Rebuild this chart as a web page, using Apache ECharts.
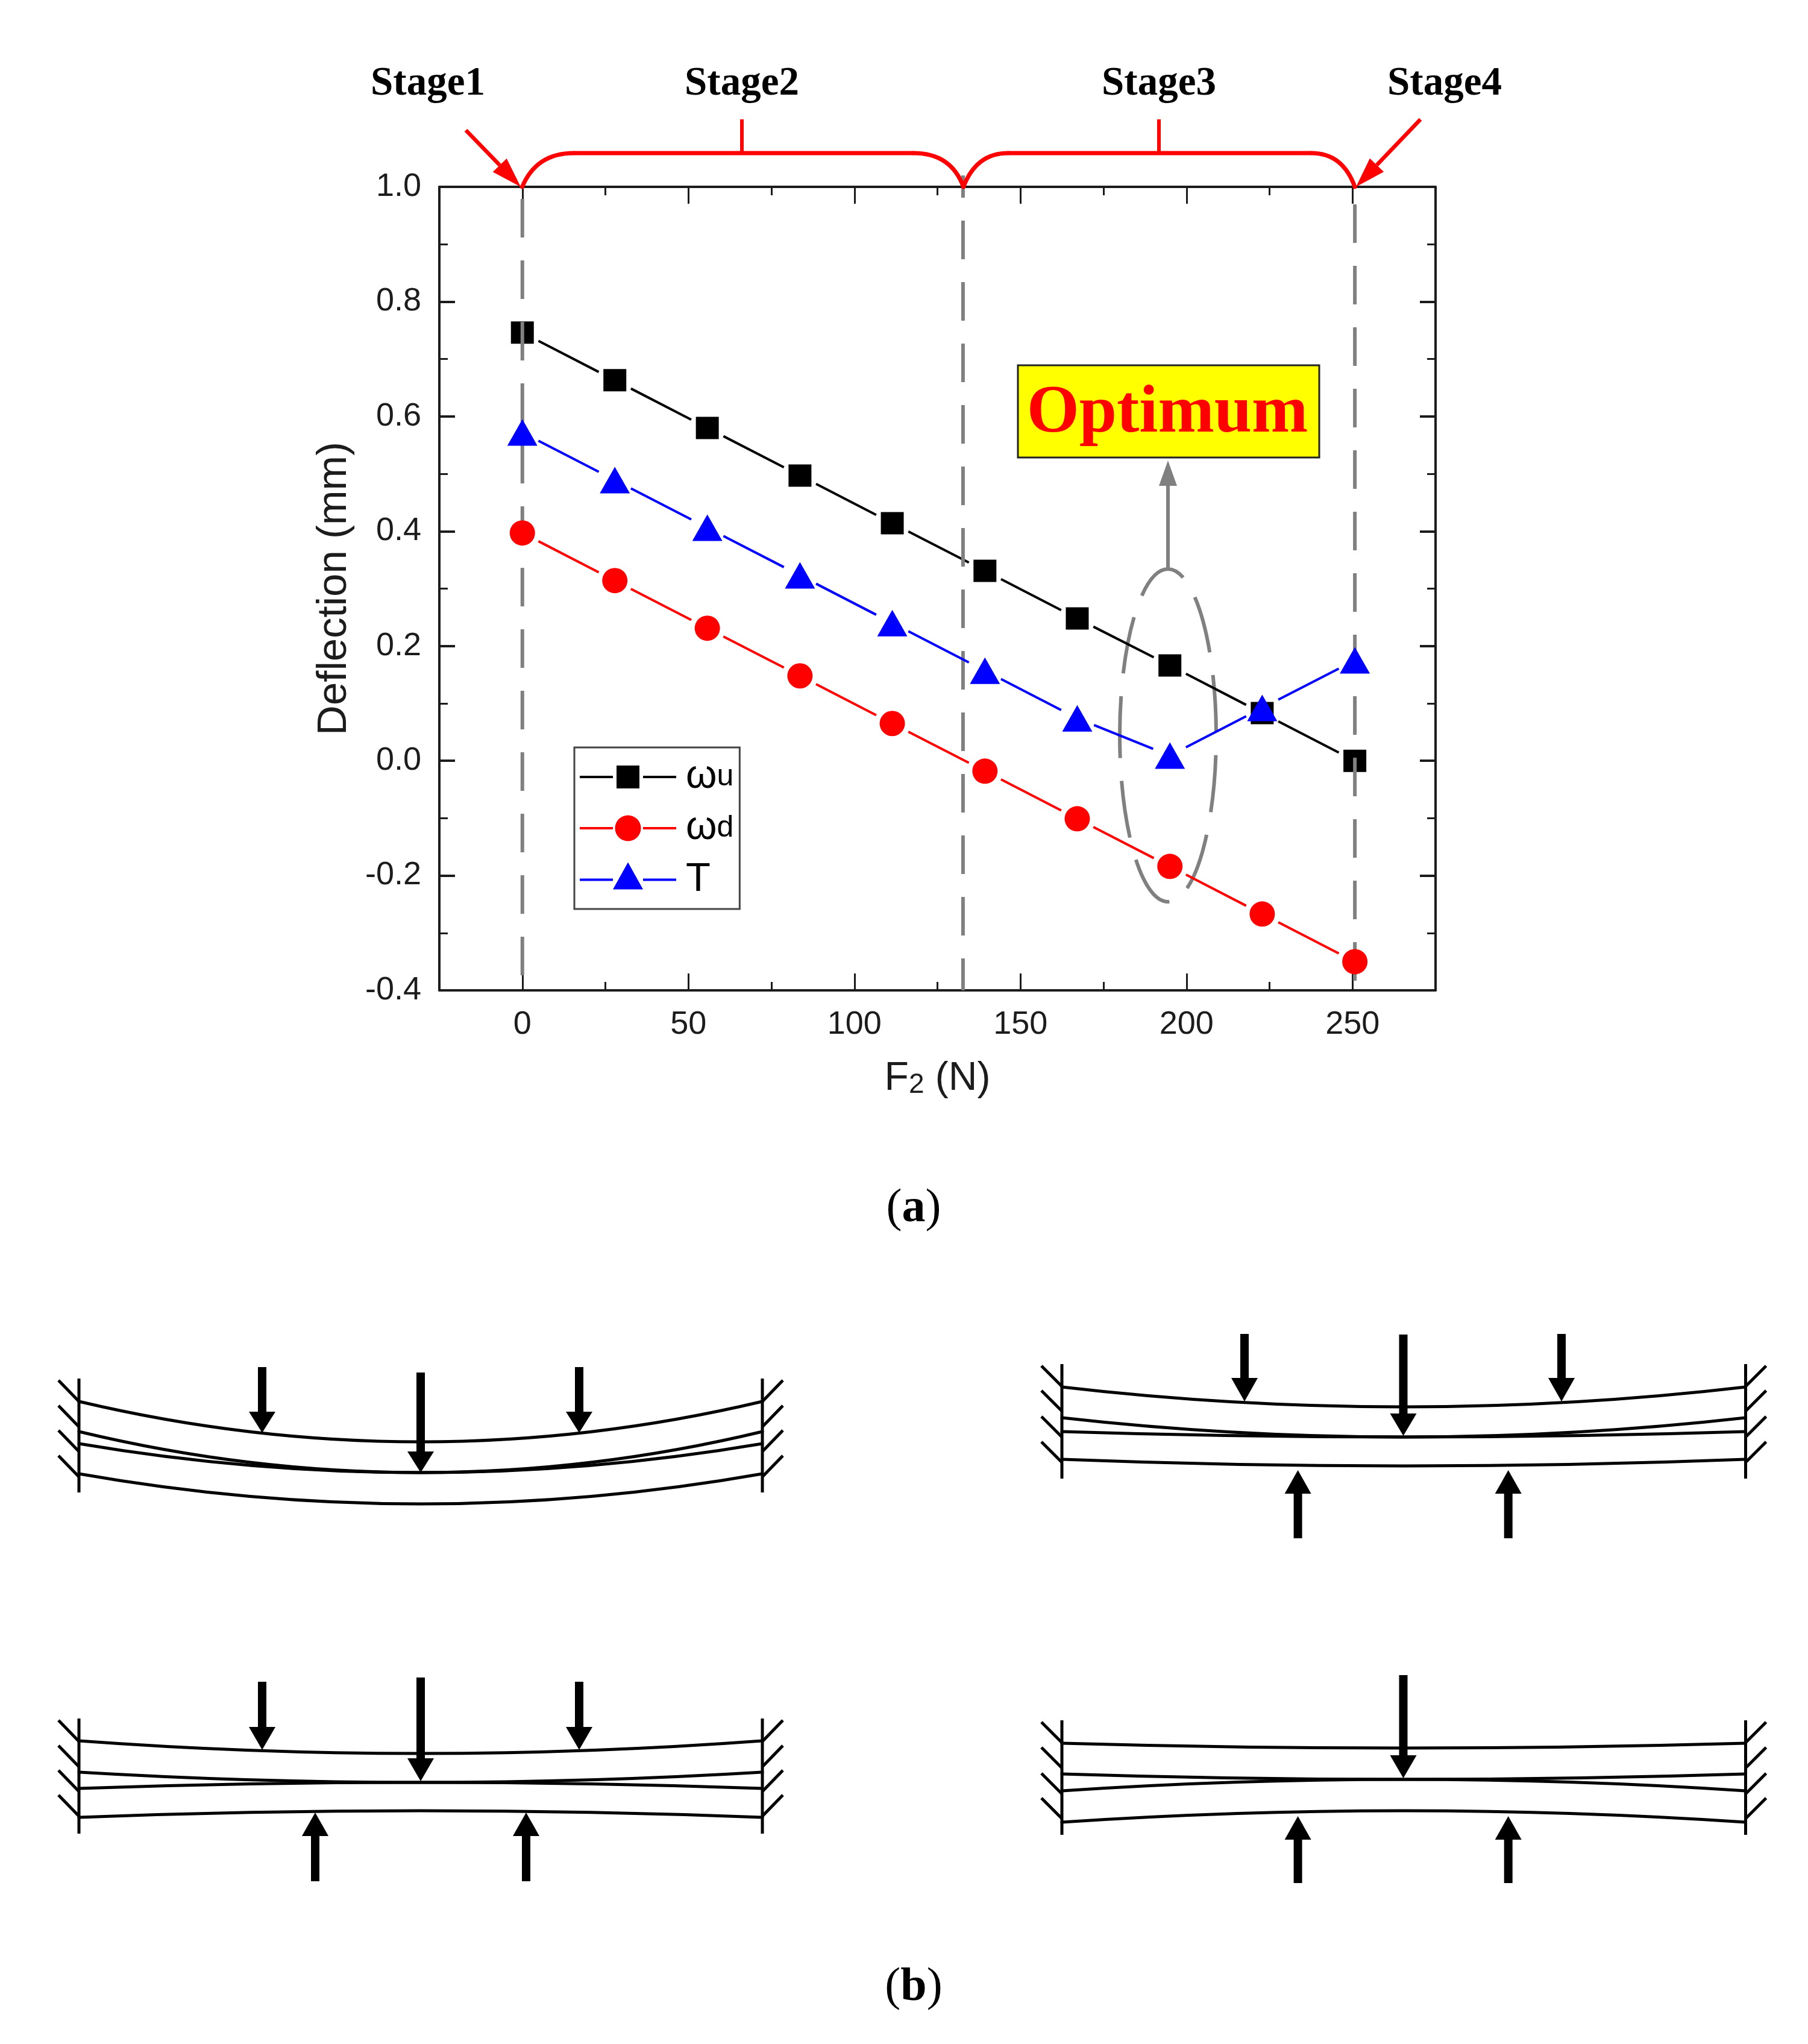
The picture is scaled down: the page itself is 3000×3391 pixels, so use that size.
<!DOCTYPE html>
<html>
<head>
<meta charset="utf-8">
<style>html,body{margin:0;padding:0;background:#fff}#c{width:3000px;height:3391px}</style>
<script src="https://cdn.jsdelivr.net/npm/echarts@6/dist/echarts.min.js"></script>
</head>
<body>
<div id="c"></div>
<script>
// ---- data ----
const forceN = [0, 27.85, 55.7, 83.6, 111.4, 139.3, 167.1, 195, 222.8, 250.7];
const omegaU = [0.746, 0.663, 0.58, 0.497, 0.414, 0.331, 0.248, 0.166, 0.083, 0.0];
const omegaD = [0.397, 0.314, 0.231, 0.148, 0.065, -0.018, -0.101, -0.184, -0.267, -0.35];
const tValue = [0.572, 0.489, 0.406, 0.323, 0.24, 0.157, 0.074, 0.009, 0.092, 0.175];
const stageBoundaries = [0, 132.7, 250.7];
const stageTops = [1.0, 1.02, 1.0];
const xMajorTicks = [0, 50, 100, 150, 200, 250];
const xMinorTicks = [25, 75, 125, 175, 225];
const stageLabels = ['Stage1', 'Stage2', 'Stage3', 'Stage4'];
const seriesNames = ['ωu', 'ωd', 'T'];
const xAxisTitle = 'F{s|2} (N)';
const yAxisTitle = 'Deflection (mm)';

const SANS = '"Liberation Sans", Arial, sans-serif';
const SERIF = '"Liberation Serif", "Times New Roman", serif';
const INK = '#1c1c1c';
const GRAY = '#808080';
const LINE_GAP = 30;

const chart = echarts.init(document.getElementById('c'), null, {renderer: 'canvas'});

function pairs(xs, ys) { return xs.map((x, i) => [x, ys[i]]); }
function segments(xs, ys) {
  const out = [];
  for (let i = 0; i + 1 < xs.length; i++) out.push([xs[i], ys[i], xs[i + 1], ys[i + 1]]);
  return out;
}
function gappedLine(color) {
  return function (params, api) {
    const a = api.coord([api.value(0), api.value(1)]);
    const b = api.coord([api.value(2), api.value(3)]);
    const dx = b[0] - a[0], dy = b[1] - a[1], d = Math.hypot(dx, dy);
    const ux = dx / d, uy = dy / d;
    return {
      type: 'line',
      shape: {x1: a[0] + ux * LINE_GAP, y1: a[1] + uy * LINE_GAP, x2: b[0] - ux * LINE_GAP, y2: b[1] - uy * LINE_GAP},
      style: {stroke: color, lineWidth: 4, fill: null}
    };
  };
}
function lineSeries(name, ys, color, z) {
  return {
    name: name + ' segments', type: 'custom', z: z, silent: true, animation: false,
    xAxisIndex: 0, yAxisIndex: 0, clip: false,
    data: segments(forceN, ys), renderItem: gappedLine(color),
    encode: {x: [0, 2], y: [1, 3]}
  };
}
function markerSeries(name, ys, color, symbol, size, z) {
  return {
    name: name, type: 'line', z: z, xAxisIndex: 0, yAxisIndex: 0, animation: false,
    data: pairs(forceN, ys), symbol: symbol, symbolSize: size, showSymbol: true, showAllSymbol: true,
    itemStyle: {color: color, borderWidth: 0}, lineStyle: {width: 0, opacity: 0}, silent: true
  };
}
const dashOffsets = [82, 46, 73];
const boundarySeries = {
  name: 'stage boundaries', type: 'custom', z: 3, silent: true, animation: false,
  xAxisIndex: 0, yAxisIndex: 0, clip: false,
  data: stageBoundaries.map((x, i) => [x, stageTops[i]]),
  encode: {x: 0, y: 1},
  renderItem: function (params, api) {
    const t = api.coord([api.value(0), api.value(1)]);
    const b = api.coord([api.value(0), -0.4]);
    const extra = params.dataIndex === 1 ? 19 : 0;
    return {
      type: 'line',
      shape: {x1: t[0], y1: t[1], x2: b[0], y2: b[1]},
      style: {stroke: GRAY, lineWidth: 6, lineDash: [64, 38], lineDashOffset: dashOffsets[params.dataIndex] - extra, fill: null}
    };
  }
};

// ---- axes: frame with inward ticks on all four sides ----
function xAxisPart(position, ticks, length, withLine, withLabel) {
  return {
    type: 'value', gridIndex: 0, position: position, min: -25, max: 275, interval: 25,
    splitLine: {show: false},
    axisLine: {show: withLine, onZero: false, lineStyle: {color: INK, width: 4}},
    axisTick: {show: true, inside: true, length: length, customValues: ticks, lineStyle: {color: INK, width: 3}},
    axisLabel: withLabel
      ? {show: true, customValues: xMajorTicks, margin: 30, fontSize: 54, fontFamily: SANS, color: INK}
      : {show: false},
    name: withLabel ? xAxisTitle : '',
    nameLocation: 'middle', nameGap: 114,
    nameTextStyle: {fontSize: 66, fontFamily: SANS, color: INK, rich: {s: {fontSize: 46, fontFamily: SANS, color: INK, verticalAlign: 'bottom'}}}
  };
}
function yAxisPart(position, withLabel) {
  return {
    type: 'value', gridIndex: 0, position: position, min: -0.4, max: 1.0, interval: 0.2,
    splitLine: {show: false},
    axisLine: {show: true, onZero: false, lineStyle: {color: INK, width: 4}},
    axisTick: {show: true, inside: true, length: 26, lineStyle: {color: INK, width: 4}},
    minorTick: {show: true, splitNumber: 2, length: 14, lineStyle: {color: INK, width: 3}},
    axisLabel: withLabel
      ? {show: true, margin: 30, fontSize: 54, fontFamily: SANS, color: INK, formatter: v => v.toFixed(1)}
      : {show: false},
    name: withLabel ? yAxisTitle : '',
    nameLocation: 'middle', nameGap: 140, nameRotate: 90,
    nameTextStyle: {fontSize: 69, fontFamily: SANS, color: INK}
  };
}

// ---- annotation drawing helpers (layout only, no chart values) ----
const shapes = [];
function ln(x1, y1, x2, y2, color, w, z) {
  shapes.push({type: 'line', z: z || 5, silent: true, shape: {x1, y1, x2, y2},
    style: {stroke: color, lineWidth: w, lineCap: 'butt', fill: null}});
}
function curve(x1, y1, cx, cy, x2, y2, color, w, z) {
  shapes.push({type: 'bezierCurve', z: z || 5, silent: true, shape: {x1, y1, x2, y2, cpx1: cx, cpy1: cy},
    style: {stroke: color, lineWidth: w, fill: null, lineCap: 'round'}});
}
function poly(points, color, z) {
  shapes.push({type: 'polygon', z: z || 5, silent: true, shape: {points}, style: {fill: color}});
}
function label(text, x, y, fontSize, fontFamily, fontWeight, color, extra) {
  shapes.push({type: 'text', z: 8, silent: true,
    style: Object.assign({text, x, y, fontSize, fontFamily, fontWeight, fill: color, align: 'center', verticalAlign: 'middle'}, extra || {})});
}
function slantArrow(x1, y1, x2, y2, color, w, headLen, headW) {
  const d = Math.hypot(x2 - x1, y2 - y1), ux = (x2 - x1) / d, uy = (y2 - y1) / d;
  const bx = x2 - ux * headLen, by = y2 - uy * headLen;
  ln(x1, y1, bx, by, color, w, 9);
  poly([[x2, y2], [bx - uy * headW / 2, by + ux * headW / 2], [bx + uy * headW / 2, by - ux * headW / 2]], color, 9);
}
// vertical solid force arrow for the beam sketches
function forceArrow(x, start, base, tip) {
  ln(x, start, x, base, '#000', 14);
  poly([[x - 22, base], [x + 22, base], [x, tip]], '#000');
}
function sketch(xL, xR, wallTop, wallBottom, hatchStarts, hatchDrop, beams, arrows) {
  const xM = (xL + xR) / 2;
  ln(xL, wallTop, xL, wallBottom, '#000', 5);
  ln(xR, wallTop, xR, wallBottom, '#000', 5);
  hatchStarts.forEach(y => {
    ln(xL - 34, y, xL, y + hatchDrop, '#000', 5);
    ln(xR + 34, y, xR, y + hatchDrop, '#000', 5);
  });
  beams.forEach(b => {
    curve(xL, b[0], xM, 2 * b[1] - b[0], xR, b[0], '#000', 5);
  });
  arrows.forEach(a => forceArrow(a[0], a[1], a[2], a[3]));
}

// Stage labels, braces and arrows above the plot
label(stageLabels[0], 710, 140, 67, SERIF, 'bold', '#000');
label(stageLabels[1], 1231, 140, 67, SERIF, 'bold', '#000');
label(stageLabels[2], 1923, 140, 67, SERIF, 'bold', '#000');
label(stageLabels[3], 2397, 140, 67, SERIF, 'bold', '#000');
const RED = '#ff0000';
curve(866.5, 310, 890, 254, 952, 254, RED, 7, 9);
ln(952, 254, 1516, 254, RED, 7, 9);
curve(1516, 254, 1578, 254, 1598.6, 310, RED, 7, 9);
curve(1598.6, 310, 1620, 254, 1672.6, 254, RED, 7, 9);
ln(1672.6, 254, 2176, 254, RED, 7, 9);
curve(2176, 254, 2228, 254, 2248, 310, RED, 7, 9);
ln(1231, 198, 1231, 254, RED, 6, 9);
ln(1923, 198, 1923, 254, RED, 6, 9);
slantArrow(773, 216, 864, 310, RED, 6.5, 50, 32);
slantArrow(2357, 198, 2250, 310, RED, 6.5, 50, 32);

// Optimum call-out
shapes.push({type: 'rect', z: 6, silent: true, shape: {x: 1689, y: 606, width: 500, height: 153},
  style: {fill: '#ffff00', stroke: '#222', lineWidth: 3}});
label('Optimum', 1937, 687, 112, SERIF, 'bold', RED);
ln(1938, 800, 1938, 945, GRAY, 6, 4);
poly([[1938, 764], [1923, 806], [1953, 806]], GRAY, 4);
shapes.push({type: 'ellipse', z: 1, silent: true, shape: {cx: 1938, cy: 1220, rx: 80, ry: 276},
  style: {stroke: GRAY, lineWidth: 6, fill: null, lineDash: [95, 38], lineDashOffset: 30}});

// (a) (b)
function panelTag(letter, y) {
  shapes.push({type: 'text', z: 8, silent: true, style: {
    text: '(' + '{b|' + letter + '}' + ')', x: 1516, y: y, align: 'center', verticalAlign: 'middle',
    fontSize: 78, fontFamily: SERIF, fill: '#000',
    rich: {b: {fontSize: 78, fontFamily: SERIF, fontWeight: 'bold', fill: '#000', color: '#000'}}
  }});
}
panelTag('a', 2006);
panelTag('b', 3298);

// Beam sketches of panel (b)
sketch(131, 1265, 2287, 2476, [2290, 2332, 2373, 2415], 35,
  [[2325, 2392], [2375, 2443], [2395, 2443], [2445, 2495]],
  [[435, 2268, 2342, 2377], [698, 2277, 2408, 2443], [961, 2268, 2342, 2377]]);
sketch(1762, 2896.5, 2263, 2453, [2266, 2307, 2350, 2392], 34,
  [[2301, 2334], [2352, 2384], [2375, 2384], [2421, 2432]],
  [[2065, 2213, 2286, 2325], [2328.5, 2214, 2345, 2382], [2591, 2213, 2286, 2325],
   [2153.6, 2552, 2478, 2439], [2502.7, 2552, 2478, 2439]]);
sketch(131, 1265, 2851, 3042, [2854, 2896, 2937, 2978], 35,
  [[2888, 2909], [2940, 2957], [2967, 2957], [3015, 3004]],
  [[435, 2790, 2865, 2903], [698, 2783, 2917, 2955], [961, 2790, 2865, 2903],
   [523, 3121, 3046, 3007], [873, 3121, 3046, 3007]]);
sketch(1762, 2896.5, 2854, 3044, [2857, 2899, 2942, 2983], 34,
  [[2892, 2900], [2943, 2952], [2971, 2952], [3023, 3004]],
  [[2328.5, 2779, 2912, 2950], [2153.6, 3124, 3052, 3013], [2502.7, 3124, 3052, 3013]]);

// Legend icons: gapped line with the marker in the middle (drawn in a 160x58 box)
const corners = 'M0 0L0 0ZM160 58L160 58Z';
const bars = 'M0 27H55V31H0ZM105 27H160V31H105Z';
const iconSquare = 'path://' + corners + bars + 'M61 10H99V48H61Z';
const iconCircle = 'path://' + corners + bars + 'M58.5 29A21.5 21.5 0 1 0 101.5 29A21.5 21.5 0 1 0 58.5 29Z';
const iconTriangle = 'path://' + corners + bars + 'M80 0L105 45H55Z';

const option = {
  backgroundColor: '#fff',
  animation: false,
  grid: {left: 729, top: 310, width: 1653, height: 1333, containLabel: false, show: false},
  xAxis: [
    xAxisPart('bottom', xMajorTicks, 28, true, true),
    xAxisPart('bottom', xMinorTicks, 14, false, false),
    xAxisPart('top', xMajorTicks, 28, true, false),
    xAxisPart('top', xMinorTicks, 14, false, false)
  ],
  yAxis: [yAxisPart('left', true), yAxisPart('right', false)],
  legend: {
    show: true, orient: 'vertical', left: 953, top: 1240, padding: [16, 10, 15, 9],
    itemWidth: 160, itemHeight: 58, itemGap: 19, selectedMode: false,
    backgroundColor: '#fff', borderColor: '#444', borderWidth: 3, borderRadius: 0, z: 6,
    itemStyle: {borderWidth: 0},
    lineStyle: {width: 0},
    data: [
      {name: seriesNames[0], icon: iconSquare},
      {name: seriesNames[1], icon: iconCircle},
      {name: seriesNames[2], icon: iconTriangle}
    ],
    formatter: n => n === 'T' ? '{t|T}' : '{w|ω}{s|' + n.charAt(1) + '}',
    textStyle: {color: '#000', fontFamily: SANS, lineHeight: 58, rich: {
      w: {fontSize: 66, lineHeight: 58, fontFamily: SANS, color: '#000', padding: [0, 0, 0, 11]},
      s: {fontSize: 50, lineHeight: 58, fontFamily: SANS, color: '#000'},
      t: {fontSize: 67, lineHeight: 58, fontFamily: SANS, color: '#000', padding: [0, 0, 0, 11]}
    }}
  },
  tooltip: {show: false},
  series: [
    lineSeries(seriesNames[0], omegaU, '#000000', 2),
    markerSeries(seriesNames[0], omegaU, '#000000', 'rect', [38, 37], 2),
    boundarySeries,
    lineSeries(seriesNames[1], omegaD, '#ff0000', 4),
    markerSeries(seriesNames[1], omegaD, '#ff0000', 'circle', 42, 4),
    lineSeries(seriesNames[2], tValue, '#0000ff', 4),
    markerSeries(seriesNames[2], tValue, '#0000ff', 'triangle', [50, 44], 4)
  ],
  graphic: {elements: shapes}
};
chart.setOption(option);
</script>
</body>
</html>
